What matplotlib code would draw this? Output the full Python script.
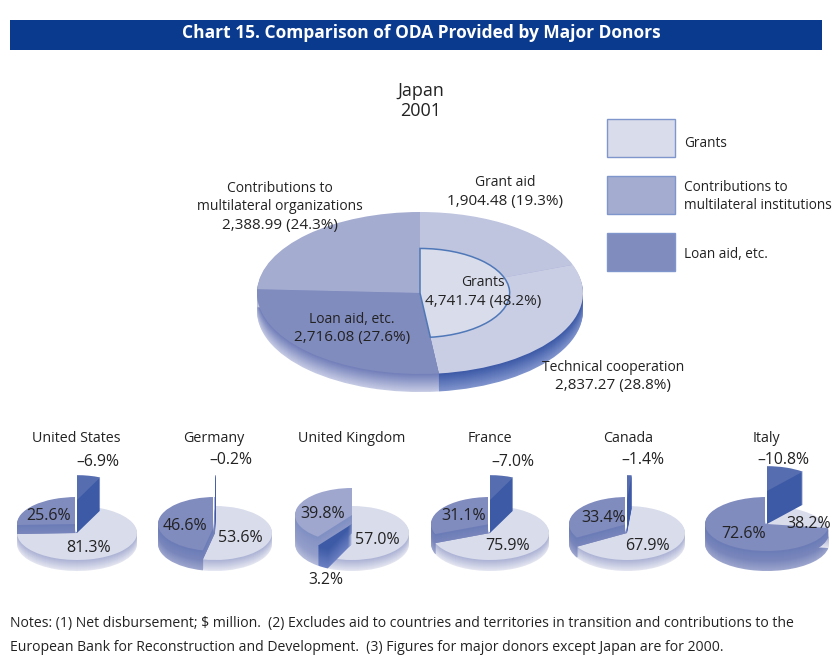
import numpy as np
import matplotlib
matplotlib.use("Agg")
import matplotlib.pyplot as plt
from matplotlib.colors import to_rgb
from matplotlib.patches import Rectangle

plt.rcParams['font.family'] = ['Open Sans', 'DejaVu Sans']

# ---------- data ----------
TITLE = "Chart 15. Comparison of ODA Provided by Major Donors"
main_labels = ["Grant aid", "Technical cooperation", "Loan aid, etc.", "Contributions to\nmultilateral organizations"]
main_values = [1904.48, 2837.27, 2716.08, 2388.99]
main_pct = [19.3, 28.8, 27.6, 24.3]
grants_total = 4741.74
grants_pct = 48.2
countries = ["United States", "Germany", "United Kingdom", "France", "Canada", "Italy"]
grants = [81.3, 53.6, 57.0, 75.9, 67.9, 38.2]
contrib = [25.6, 46.6, 39.8, 31.1, 33.4, 72.6]
loans = [-6.9, -0.2, 3.2, -7.0, -1.4, -10.8]
legend_labels = ["Grants", "Contributions to\nmultilateral institutions", "Loan aid, etc."]
notes = ["Notes: (1) Net disbursement; $ million.  (2) Excludes aid to countries and territories in transition and contributions to the",
         "European Bank for Reconstruction and Development.  (3) Figures for major donors except Japan are for 2000."]

# ---------- style / layout ----------
W, H = 832, 657
C_GA, C_TC, C_LOAN, C_CON, C_IN = "#BFC4DF", "#C9CEE4", "#808BBE", "#A4ACD0", "#D9DCEB"
C_EDGE = "#4F78B8"
C_NEG_TOP, C_NEG = "#566DB0", "#3C5AA6"
TXT = "#222222"
DY = 1.5  # baseline correction for the font
fig = plt.figure(figsize=(W/100, H/100), dpi=100, facecolor="white")


def mix(a, b, t):
    a, b = np.array(to_rgb(a)), np.array(to_rgb(b))
    return tuple(a + (b - a) * t)


def pie_axes(cx, cy, rx, ry):
    ax = fig.add_axes([0, 0, 1, 1], facecolor="none")
    ax.geo = (cx, cy, rx, ry)
    return ax


def finish(ax):
    cx, cy, rx, ry = ax.geo
    ax.set_aspect("auto")
    ax.set_xlim(-cx/rx, (W-cx)/rx)
    ax.set_ylim(-(H-cy)/ry, cy/ry)
    ax.axis("off")


def sector(ax, start, span, z, color, radius=1.0, dx=0.0, **wp):
    cx, cy, rx, ry = ax.geo
    props = dict(linewidth=0)
    props.update(wp)
    wedges, _ = ax.pie([span, max(100-span, 0)], colors=[color, "none"], startangle=90-start*3.6,
                       counterclock=False, radius=radius, center=(dx/rx, z/ry), frame=True,
                       wedgeprops=props)
    wedges[1].set_visible(False)


def extrude(ax, start, span, z0, z1, c_low, c_high, radius=1.0, dx=0.0):
    zs = np.arange(z0, z1, 1.0)
    for i, z in enumerate(zs):
        t = i/max(len(zs)-1, 1)
        sector(ax, start, span, z, mix(c_low, c_high, t), radius, dx)


# ---------- main pie ----------
ax = pie_axes(420, 293, 163, 81)
pct = np.array(main_values)/sum(main_values)*100
starts = np.r_[0, np.cumsum(pct)[:-1]]
side_low = ["#C9CEE4", "#7F93CC", "#C4C9E3", "#C4C9E3"]
side_high = ["#9AA3CE", "#3E5BA8", "#7380BA", "#7380BA"]
tops = [C_GA, C_TC, C_LOAN, C_CON]
for i in range(4):
    extrude(ax, starts[i], pct[i], -18, 0, side_low[i], side_high[i])
for i in range(4):
    sector(ax, starts[i], pct[i], 0, tops[i])
inner = pct[0] + pct[1]
sector(ax, 0, inner, 0, C_IN, radius=0.55, edgecolor=C_EDGE)
ax.patches[-2].set_linewidth(1.1)
finish(ax)

# ---------- small pies ----------
centers = [77, 215, 352, 490, 627, 767]
radii = [60, 57, 57, 59, 58, 62]
con_colors = [C_LOAN, C_LOAN, "#9FA7CF", C_LOAN, C_LOAN, C_LOAN]
con_raise = [9, 9, 18, 9, 9, 9]
neg_raise = [0, 0, 0, 0, 0, 9]
for k in range(len(countries)):
    ax = pie_axes(centers[k], 533, radii[k], 27)
    g, c, l = grants[k], contrib[k], loans[k]
    gspan = g + min(l, 0)
    cc = con_colors[k]
    c_low = mix(cc, "#FFFFFF", .22)
    c_mid = mix(cc, "#3C5AA6", .12)
    extrude(ax, 100-c, c, -11, 0, c_low, c_mid)
    extrude(ax, 0, gspan, -11, 0, "#E2E4F0", "#AEB4D5")
    sector(ax, 0, gspan, 0, C_IN)
    extrude(ax, 100-c, c, 0, con_raise[k], c_mid, mix(cc, "#3C5AA6", .3))
    sector(ax, 100-c, c, con_raise[k], cc)
    if l > 0:
        extrude(ax, gspan, l, -11, 9, "#6C80C2", "#3C5AA6")
        sector(ax, gspan, l, 9, "#3C5AA6")
    else:
        z = neg_raise[k]
        extrude(ax, 0, -l, z, z+33, "#FFFFFF", "#FFFFFF", radius=.92, dx=-1.5)
        sector(ax, 0, -l, z+33, "#FFFFFF", radius=.92, dx=-1.5)
        extrude(ax, 0, -l, z, z+33, C_NEG, C_NEG, radius=.92)
        sector(ax, 0, -l, z+33, C_NEG_TOP, radius=.92)
    finish(ax)

# ---------- overlay: banner, legend, text ----------
ov = fig.add_axes([0, 0, 1, 1], facecolor="none")
ov.set_xlim(0, W)
ov.set_ylim(H, 0)
ov.axis("off")
ov.add_patch(Rectangle((10, 20), 812, 30, fc="#0A3A8E", ec="none"))
ov.text(421, 32 + DY, TITLE, color="white", fontsize=12.5, fontweight="bold", ha="center", va="center")


def T(x, y, s, size=10.0, **kw):
    kw.setdefault("ha", "center")
    ov.text(x, y + DY, s, fontsize=size, color=TXT, va="center", **kw)


T(421, 89, "Japan", 13)
T(421, 110, "2001", 13)

for y0, col, lab, ly in zip([119, 176, 233], [C_IN, C_CON, C_LOAN], legend_labels, [142, 195, 253]):
    ov.add_patch(Rectangle((607, y0), 68, 38, fc=col, ec="#7F96CC", lw=1))
    T(684, ly, lab, 9.8, ha="left", linespacing=1.3)


def fmt(v, p):
    return f"{v:,.2f} ({p:.1f}%)"


NUM = 11.0
for x, ys, i in [(280, (187, 205), 3), (505, (181,), 0), (352, (318,), 2), (613, (366,), 1)]:
    T(x, ys[0], main_labels[i].split("\n")[0])
    if len(ys) > 1:
        T(x, ys[1], main_labels[i].split("\n")[1])
    T(x, ys[-1] + 18.5, fmt(main_values[i], main_pct[i]), NUM)
T(483, 281, "Grants")
T(483, 300, fmt(grants_total, grants_pct), NUM)

title_x = [76, 214, 352, 490, 628, 766]
neg_xy = [(98, 460), (231, 459), (326, 578), (513, 460), (643, 459), (783, 459)]
con_xy = [(49, 514), (185, 525), (323, 512), (464, 514), (604, 516), (744, 533)]
gr_xy = [(89, 547), (240, 537), (377, 538), (508, 545), (647, 544), (809, 523)]
for k, name in enumerate(countries):
    T(title_x[k], 437, name, 10.3)
    s = f"{loans[k]:.1f}%".replace("-", "\u2013")
    T(*neg_xy[k], s, 11.3)
    T(*con_xy[k], f"{contrib[k]:.1f}%", 11.5)
    T(*gr_xy[k], f"{grants[k]:.1f}%", 11.5)

T(10, 622, notes[0], 10.05, ha="left")
T(10, 646, notes[1], 10.05, ha="left")

fig.savefig("out.png", dpi=100)
